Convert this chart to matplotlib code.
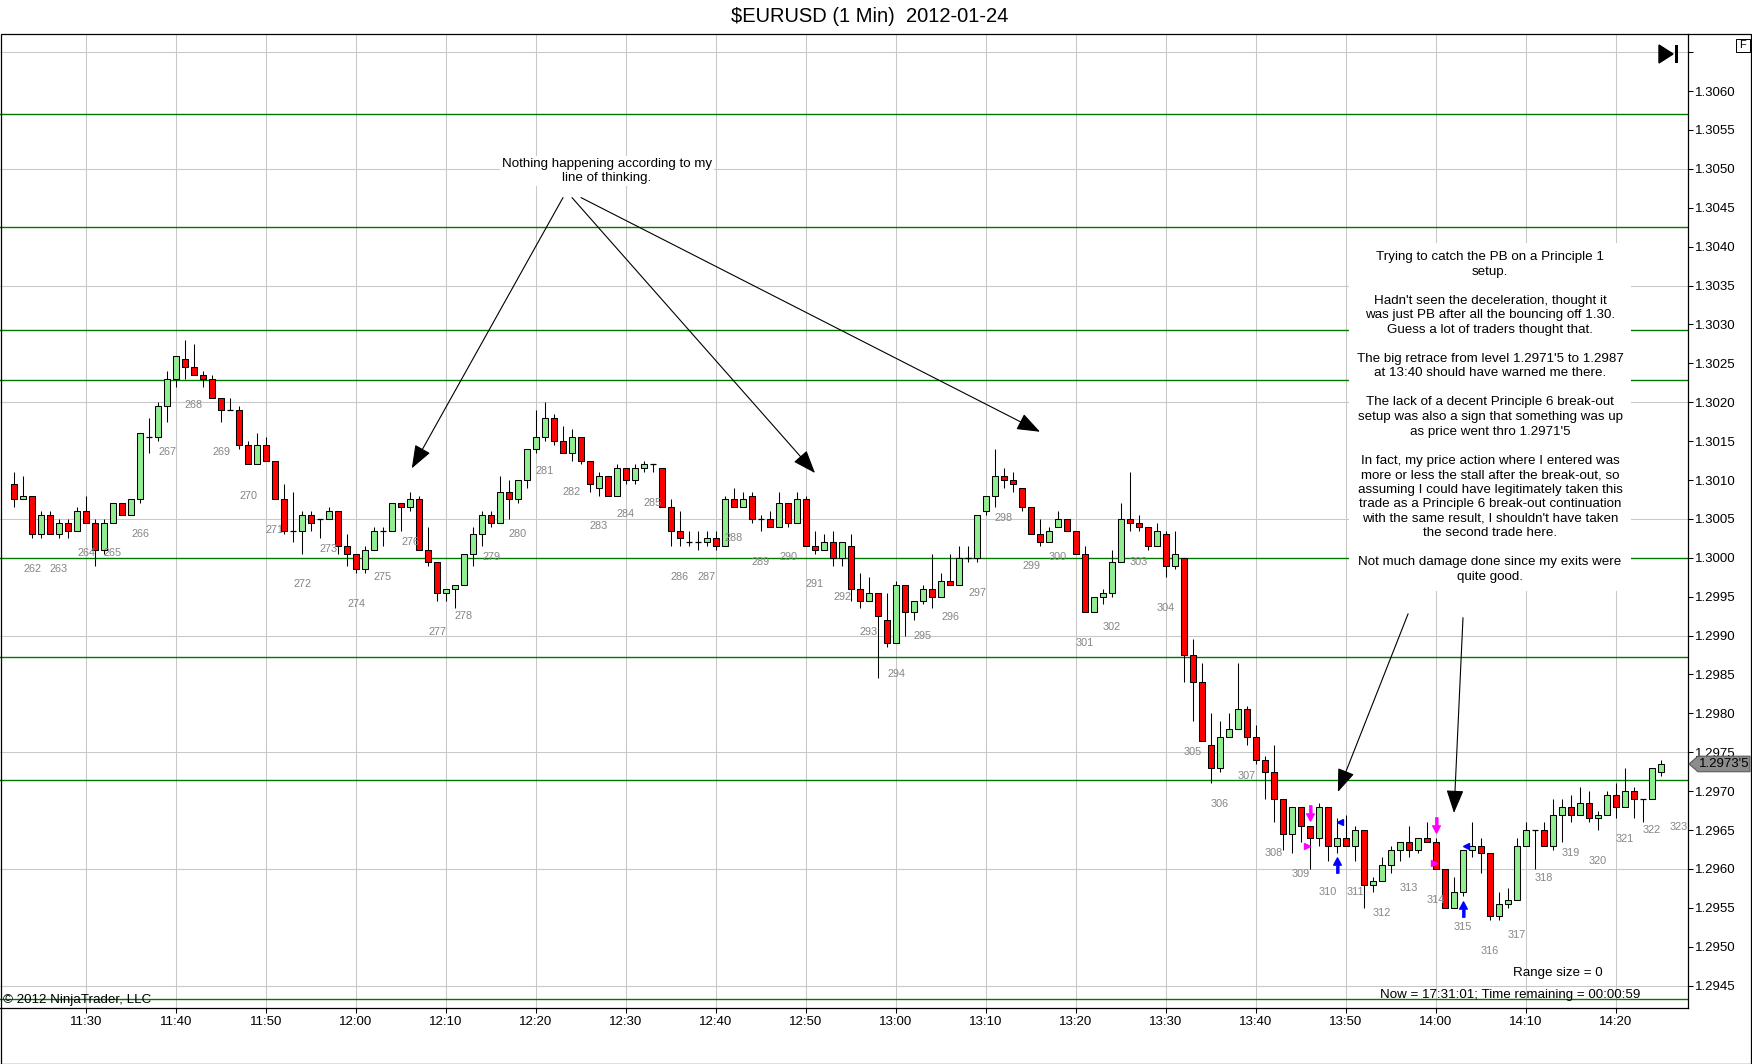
import numpy as np
import pandas as pd
import matplotlib
matplotlib.use('Agg')
import matplotlib.pyplot as plt
import matplotlib.transforms as mtransforms
from matplotlib.patches import Polygon, Rectangle

# 1-minute EURUSD bars, 2012-01-24, starting 11:22
start_time = '2012-01-24 11:22'
opens = [1.30095, 1.30075, 1.3008, 1.3003, 1.30055, 1.3003, 1.30045, 1.30035, 1.3006, 1.30045,
         1.3001, 1.30045, 1.3007, 1.30055, 1.30075, 1.30155, 1.30155, 1.30195, 1.3023, 1.30255,
         1.30245, 1.30235, 1.3023, 1.30205, 1.3019, 1.3019, 1.30145, 1.3012, 1.30145, 1.30125,
         1.30075, 1.30035, 1.30035, 1.30055, 1.3005, 1.3005, 1.3006, 1.30015, 1.30005, 1.29985,
         1.3001, 1.30035, 1.30035, 1.3007, 1.30065, 1.30075, 1.3001, 1.29995, 1.29955, 1.2996,
         1.29965, 1.30005, 1.3003, 1.30055, 1.30045, 1.30085, 1.30075, 1.3010, 1.3014, 1.30155,
         1.3018, 1.3015, 1.30135, 1.30155, 1.30125, 1.3009, 1.30105, 1.3008, 1.30115, 1.3010,
         1.30115, 1.3012, 1.30115, 1.30065, 1.30035, 1.3002, 1.3002, 1.3002, 1.30025, 1.30015,
         1.30075, 1.30065, 1.3008, 1.3005, 1.3005, 1.3004, 1.3007, 1.30045, 1.30075, 1.30015,
         1.3001, 1.3002, 1.3000, 1.30015, 1.2996, 1.29945, 1.29955, 1.2992, 1.2989, 1.29965,
         1.2993, 1.29945, 1.2996, 1.2995, 1.2997, 1.29965, 1.3000, 1.3000, 1.3006, 1.3008,
         1.30105, 1.3010, 1.3009, 1.30065, 1.3003, 1.3002, 1.3004, 1.3005, 1.30035, 1.30005,
         1.2993, 1.2995, 1.29955, 1.29995, 1.3005, 1.30045, 1.3004, 1.30015, 1.3003, 1.2999,
         1.3000, 1.29875, 1.2984, 1.2976, 1.2973, 1.2977, 1.2978, 1.29805, 1.2977, 1.2974,
         1.29725, 1.2969, 1.29645, 1.2968, 1.29655, 1.2964, 1.2968, 1.2963, 1.2964, 1.2963,
         1.2965, 1.2958, 1.29585, 1.29605, 1.29625, 1.29635, 1.29625, 1.2964, 1.29635, 1.2960,
         1.2955, 1.2957, 1.29625, 1.2963, 1.2962, 1.2954, 1.29555, 1.2956, 1.2963, 1.2965,
         1.2965, 1.2963, 1.2967, 1.2968, 1.2967, 1.29685, 1.29665, 1.2967, 1.29695, 1.2968,
         1.2970, 1.2969, 1.2969, 1.29725]
highs = [1.3011, 1.30105, 1.3008, 1.3006, 1.3006, 1.3005, 1.3005, 1.30065, 1.3008, 1.3005,
         1.3005, 1.3007, 1.3007, 1.30075, 1.3016, 1.3018, 1.3020, 1.3024, 1.3026, 1.3028,
         1.30275, 1.3024, 1.30235, 1.30205, 1.30205, 1.30195, 1.3015, 1.3016, 1.30155, 1.30125,
         1.30095, 1.30085, 1.3006, 1.3006, 1.3005, 1.30065, 1.3006, 1.3003, 1.30005, 1.30015,
         1.3004, 1.3004, 1.3007, 1.3007, 1.30085, 1.3008, 1.3004, 1.29995, 1.2996, 1.29965,
         1.30005, 1.3004, 1.3006, 1.3006, 1.30105, 1.3010, 1.3010, 1.3014, 1.3019, 1.3020,
         1.30185, 1.3017, 1.30165, 1.30155, 1.30125, 1.3011, 1.30105, 1.3012, 1.30115, 1.3012,
         1.30125, 1.3012, 1.30115, 1.30075, 1.3006, 1.30035, 1.30035, 1.30035, 1.30035, 1.3008,
         1.3009, 1.30085, 1.30085, 1.30055, 1.3006, 1.30085, 1.3007, 1.30085, 1.3008, 1.30035,
         1.3003, 1.30035, 1.3002, 1.3003, 1.2998, 1.29975, 1.29955, 1.29955, 1.2997, 1.29965,
         1.29945, 1.29965, 1.30005, 1.2998, 1.30005, 1.30015, 1.30015, 1.30055, 1.3008, 1.3014,
         1.30115, 1.3011, 1.3009, 1.30065, 1.3005, 1.3004, 1.3006, 1.3005, 1.30035, 1.30015,
         1.2995, 1.2996, 1.3001, 1.3007, 1.3011, 1.30055, 1.3004, 1.30045, 1.30035, 1.30035,
         1.3000, 1.29895, 1.29865, 1.2980, 1.2979, 1.2980, 1.29865, 1.2981, 1.29785, 1.29745,
         1.2976, 1.2969, 1.2968, 1.2968, 1.29655, 1.29685, 1.2968, 1.29665, 1.2967, 1.29655,
         1.2965, 1.2959, 1.29615, 1.2963, 1.29635, 1.29655, 1.2964, 1.2966, 1.2964, 1.2960,
         1.2959, 1.29625, 1.2966, 1.2964, 1.2962, 1.2957, 1.29575, 1.2964, 1.2966, 1.2965,
         1.2966, 1.2969, 1.2969, 1.29695, 1.29705, 1.2970, 1.29675, 1.2970, 1.2971, 1.2973,
         1.29705, 1.2969, 1.2973, 1.2974]
lows = [1.30065, 1.30075, 1.30025, 1.30025, 1.3003, 1.30025, 1.30025, 1.30035, 1.30045, 1.2999,
        1.30005, 1.30045, 1.30055, 1.30055, 1.3007, 1.30135, 1.3015, 1.30175, 1.3022, 1.3023,
        1.30235, 1.3022, 1.30205, 1.30175, 1.3019, 1.3014, 1.3012, 1.3012, 1.30125, 1.30075,
        1.3003, 1.3002, 1.30005, 1.30035, 1.30025, 1.3005, 1.30005, 1.2999, 1.2998, 1.2998,
        1.3001, 1.30015, 1.30035, 1.30035, 1.3006, 1.3001, 1.2999, 1.29945, 1.29945, 1.29935,
        1.29965, 1.2999, 1.30015, 1.3004, 1.30045, 1.3005, 1.3007, 1.3009, 1.30135, 1.3015,
        1.30145, 1.30135, 1.30125, 1.3012, 1.30085, 1.3008, 1.3008, 1.3008, 1.30095, 1.30095,
        1.3011, 1.3011, 1.30065, 1.30015, 1.30015, 1.30015, 1.3001, 1.30015, 1.3001, 1.30015,
        1.30065, 1.30065, 1.30045, 1.30035, 1.3004, 1.3004, 1.3004, 1.30045, 1.30015, 1.30005,
        1.3001, 1.2999, 1.2999, 1.29945, 1.29935, 1.29945, 1.29845, 1.29885, 1.2989, 1.2990,
        1.2992, 1.2994, 1.29935, 1.2995, 1.29965, 1.29965, 1.29995, 1.29995, 1.30055, 1.30065,
        1.3009, 1.30085, 1.3006, 1.3003, 1.30015, 1.3002, 1.3004, 1.30035, 1.30005, 1.2993,
        1.2993, 1.2994, 1.2995, 1.29995, 1.30035, 1.30035, 1.3001, 1.30015, 1.29975, 1.29985,
        1.2984, 1.2979, 1.29765, 1.2971, 1.29725, 1.2977, 1.2978, 1.2976, 1.29735, 1.2969,
        1.2966, 1.29625, 1.2962, 1.29635, 1.2960, 1.2963, 1.2961, 1.2962, 1.2963, 1.2961,
        1.2955, 1.2957, 1.29585, 1.29595, 1.2961, 1.29615, 1.2962, 1.29635, 1.2960, 1.2955,
        1.2955, 1.29565, 1.29615, 1.29595, 1.29535, 1.29535, 1.2955, 1.2956, 1.2963, 1.2960,
        1.2963, 1.29625, 1.29635, 1.2966, 1.2967, 1.2966, 1.2965, 1.2967, 1.29665, 1.2968,
        1.29665, 1.2966, 1.2969, 1.2972]
closes = [1.30075, 1.3008, 1.3003, 1.30055, 1.3003, 1.30045, 1.30035, 1.3006, 1.30045, 1.3001,
          1.30045, 1.3007, 1.30055, 1.30075, 1.3016, 1.30155, 1.30195, 1.3023, 1.3026, 1.30245,
          1.30235, 1.3023, 1.30205, 1.3019, 1.3019, 1.30145, 1.3012, 1.30145, 1.30125, 1.30075,
          1.30035, 1.30035, 1.30055, 1.30045, 1.3005, 1.3006, 1.30015, 1.30005, 1.29985, 1.3001,
          1.30035, 1.30035, 1.3007, 1.30065, 1.30075, 1.3001, 1.29995, 1.29955, 1.2996, 1.29965,
          1.30005, 1.3003, 1.30055, 1.30045, 1.30085, 1.30075, 1.3010, 1.3014, 1.30155, 1.3018,
          1.3015, 1.30135, 1.30155, 1.30125, 1.30095, 1.30105, 1.3008, 1.30115, 1.3010, 1.30115,
          1.3012, 1.3012, 1.30065, 1.30035, 1.30025, 1.3002, 1.3002, 1.30025, 1.30015, 1.30075,
          1.30065, 1.30075, 1.3005, 1.3005, 1.3004, 1.3007, 1.30045, 1.30075, 1.30015, 1.3001,
          1.3002, 1.3000, 1.3002, 1.2996, 1.29945, 1.29955, 1.29925, 1.2989, 1.29965, 1.2993,
          1.29945, 1.2996, 1.2995, 1.2997, 1.29965, 1.3000, 1.3000, 1.30055, 1.3008, 1.30105,
          1.3010, 1.30095, 1.30065, 1.3003, 1.3002, 1.30035, 1.3005, 1.30035, 1.30005, 1.2993,
          1.2995, 1.29955, 1.29995, 1.3005, 1.30045, 1.3004, 1.30015, 1.30035, 1.2999, 1.30005,
          1.29875, 1.2984, 1.29765, 1.2973, 1.2977, 1.2978, 1.29805, 1.2977, 1.2974, 1.29725,
          1.2969, 1.29645, 1.2968, 1.29655, 1.2964, 1.2968, 1.2963, 1.2964, 1.2963, 1.2965,
          1.2958, 1.29585, 1.29605, 1.29625, 1.29635, 1.29625, 1.2964, 1.29635, 1.2960, 1.2955,
          1.2957, 1.29625, 1.2963, 1.2962, 1.2954, 1.29555, 1.2956, 1.2963, 1.2965, 1.2965,
          1.2963, 1.2967, 1.2968, 1.2967, 1.29685, 1.29665, 1.2967, 1.29695, 1.2968, 1.2970,
          1.2969, 1.2969, 1.2973, 1.29735]

# bar counter labels (every third bar) and their heights
bar_numbers = list(range(262, 324))
bar_label_y = [1.29986, 1.29986, 1.30006, 1.30006, 1.30030, 1.30136, 1.30196, 1.30136, 1.30080, 1.30036,
               1.29966, 1.30011, 1.29940, 1.29975, 1.30020, 1.29905, 1.29925, 1.30001, 1.30030, 1.30111,
               1.30085, 1.30041, 1.30056, 1.30070, 1.29975, 1.29975, 1.30025, 1.29995, 1.30001, 1.29966,
               1.29950, 1.29905, 1.29850, 1.29900, 1.29924, 1.29955, 1.30051, 1.29990, 1.30001, 1.29890,
               1.29911, 1.29995, 1.29935, 1.29750, 1.29684, 1.29720, 1.29620, 1.29594, 1.29570, 1.29570,
               1.29544, 1.29575, 1.29560, 1.29525, 1.29494, 1.29515, 1.29589, 1.29620, 1.29610, 1.29639,
               1.29650, 1.29654]

# horizontal levels drawn by the trader
levels = [1.30570, 1.30425, 1.30293, 1.30228, 1.30000, 1.29873, 1.29715, 1.29433]

# trade markers (bar index, price)
entry_x, entry_y = [144, 158], [1.29672, 1.29657]
exit_x, exit_y = [147, 161], [1.29605, 1.29549]
entry_tri_x, entry_tri_y = [143.7, 157.8], [1.29629, 1.29608]
exit_tri_x, exit_tri_y = [147.3, 161.3], [1.29661, 1.29629]

last_price_text = "1.2973'5"

note_top = "Nothing happening according to my\nline of thinking."
note_right = ("Trying to catch the PB on a Principle 1\nsetup.\n\n"
              "Hadn't seen the deceleration, thought it\n"
              "was just PB after all the bouncing off 1.30.\n"
              "Guess a lot of traders thought that.\n\n"
              "The big retrace from level 1.2971'5 to 1.2987\n"
              "at 13:40 should have warned me there.\n\n"
              "The lack of a decent Principle 6 break-out\n"
              "setup was also a sign that something was up\n"
              "as price went thro 1.2971'5\n\n"
              "In fact, my price action where I entered was\n"
              "more or less the stall after the break-out, so\n"
              "assuming I could have legitimately taken this\n"
              "trade as a Principle 6 break-out continuation\n"
              "with the same result, I shouldn't have taken\n"
              "the second trade here.\n\n"
              "Not much damage done since my exits were\n"
              "quite good.")

plt.rcParams['font.family'] = ['Liberation Sans', 'DejaVu Sans']

W, H = 1752, 1064
fig = plt.figure(figsize=(W / 100, H / 100), dpi=100)
fig.patch.set_facecolor('white')


def fx(px):
    return px / W


def fy(py):
    return 1 - py / H


ax = fig.add_axes([0, fy(1008), fx(1688), (1008 - 34) / H])

o = np.array(opens)
h = np.array(highs)
l = np.array(lows)
c = np.array(closes)
x = np.arange(len(o))
times = pd.date_range(start_time, periods=len(o), freq='min')

ax.set_xlim(-1.556, 186.0)
ax.set_ylim(1.294213, 1.306733)

# grid
tick_idx = [i for i, t in enumerate(times) if t.minute % 10 == 0]
for i in tick_idx:
    ax.axvline(i, color='#C8C8C8', lw=0.75, zorder=0)
for g in np.arange(1.2945, 1.30651, 0.0015):
    ax.axhline(g, color='#C8C8C8', lw=0.75, zorder=0)
for lv in levels:
    ax.axhline(lv, color='#007800', lw=1.0, zorder=1)

# candles
bw = 0.66
up = c > o
dn = c < o
flat = c == o
ax.vlines(x, l, h, color='black', lw=0.75, zorder=3)
ax.bar(x[up], c[up] - o[up], bottom=o[up], width=bw, color='#90EE90',
       edgecolor='black', lw=0.75, zorder=4)
ax.bar(x[dn], o[dn] - c[dn], bottom=c[dn], width=bw, color='#FF0000',
       edgecolor='black', lw=0.75, zorder=4)
ax.hlines(o[flat], x[flat] - bw / 2, x[flat] + bw / 2, color='black', lw=0.9, zorder=4)

# bar counters
for k, (n, yv) in enumerate(zip(bar_numbers, bar_label_y)):
    ax.text(2 + 3 * k, yv, str(n), ha='center', va='center', fontsize=7.8,
            color='#858585', zorder=5)

# trade markers
up_arrow = [(-0.18, -1), (0.18, -1), (0.18, 0.05), (0.5, 0.05), (0, 1), (-0.5, 0.05), (-0.18, 0.05)]
down_arrow = [(px, -py) for px, py in up_arrow]
ax.plot(entry_x, entry_y, ls='none', marker=down_arrow, ms=11, color='#FF00FF', mec='#FF00FF', zorder=6)
ax.plot(exit_x, exit_y, ls='none', marker=up_arrow, ms=11, color='#0000FF', mec='#0000FF', zorder=6)
ax.plot(entry_tri_x, entry_tri_y, ls='none', marker='>', ms=4.5, color='#FF00FF', zorder=6)
ax.plot(exit_tri_x, exit_tri_y, ls='none', marker='<', ms=4.5, color='#0000FF', zorder=6)

# annotations
ax.text(65.9, 1.30497, note_top, ha='center', va='center', fontsize=9.6,
        linespacing=1.28, zorder=7,
        bbox=dict(boxstyle='square,pad=0.15', fc='white', ec='none'))
ax.text(164.0, 1.30181, note_right, ha='center', va='center', fontsize=9.6,
        linespacing=1.28, zorder=7,
        bbox=dict(boxstyle='square,pad=0.6', fc='white', ec='none'))

arrow_kw = dict(arrowstyle='-|>,head_length=0.8,head_width=0.3', color='black',
                lw=0.8, shrinkA=0, shrinkB=0, mutation_scale=18)
for sx, sy, tx, ty in [(61.0, 1.30463, 44.2, 1.30115),
                       (62.0, 1.30463, 89.0, 1.30109),
                       (63.0, 1.30463, 114.0, 1.30162),
                       (154.9, 1.29928, 147.1, 1.29699),
                       (161.0, 1.29923, 160.0, 1.29672)]:
    ax.annotate('', xy=(tx, ty), xytext=(sx, sy), arrowprops=arrow_kw, zorder=8)

# axes styling
for side in ['left', 'top']:
    ax.spines[side].set_visible(False)
for side in ['right', 'bottom']:
    ax.spines[side].set_linewidth(0.9)
ax.yaxis.tick_right()
yt = np.round(np.arange(1.2945, 1.30651, 0.0005), 4)
ax.set_yticks(yt)
ax.set_yticklabels(['%.4f' % v if v < 1.3064 else '' for v in yt])
ax.set_xticks(tick_idx)
ax.set_xticklabels([times[i].strftime('%H:%M') for i in tick_idx])
ax.tick_params(axis='y', direction='out', length=3.6, width=0.75, labelsize=9.5, pad=1.5)
ax.tick_params(axis='x', direction='out', length=3.6, width=0.75, labelsize=9.5, pad=2.5)

# last price tag on the price axis
blend = mtransforms.blended_transform_factory(fig.transFigure, ax.transData)
lp = closes[-1]
tag = Polygon([(fx(1689), lp), (fx(1698), lp + 0.0001), (fx(1750), lp + 0.0001),
               (fx(1750), lp - 0.0001), (fx(1698), lp - 0.0001)],
              closed=True, transform=blend, fc='#8C8C8C', ec='#5A5A5A', lw=0.8,
              clip_on=False, zorder=10)
fig.add_artist(tag)
fig.text(fx(1724), lp, last_price_text, transform=blend, ha='center', va='center',
         fontsize=9.5, color='black', zorder=11)

# outer frame and title
fig.add_artist(Rectangle((fx(0.5), fy(1063.5)), fx(1750.5), (1063.5 - 34) / H,
                         transform=fig.transFigure, fill=False, ec='black', lw=0.9))
fig.text(fx(870), fy(16), r'\$EURUSD (1 Min)  2012-01-24', ha='center', va='center',
         fontsize=14.5)

# chart-window widgets
fig.add_artist(Polygon([(fx(1659), fy(45)), (fx(1659), fy(63)), (fx(1673), fy(54))],
                       closed=True, transform=fig.transFigure, fc='black', ec='black'))
fig.add_artist(Rectangle((fx(1675), fy(63)), fx(3), 18 / H, transform=fig.transFigure,
                         fc='black', ec='none'))
fig.add_artist(Rectangle((fx(1736), fy(52)), fx(14), 13 / H, transform=fig.transFigure,
                         fill=False, ec='black', lw=0.7))
fig.text(fx(1743), fy(45.5), 'F', ha='center', va='center', fontsize=8)

# footer texts
fig.text(fx(1558), fy(973), 'Range size = 0', ha='center', va='center', fontsize=9.6)
fig.text(fx(1640), fy(995), 'Now = 17:31:01; Time remaining = 00:00:59', ha='right',
         va='center', fontsize=9.6)
fig.text(fx(3), fy(1000), '\u00a9 2012 NinjaTrader, LLC', ha='left', va='center', fontsize=9.6)

fig.savefig('out.png', dpi=100)
